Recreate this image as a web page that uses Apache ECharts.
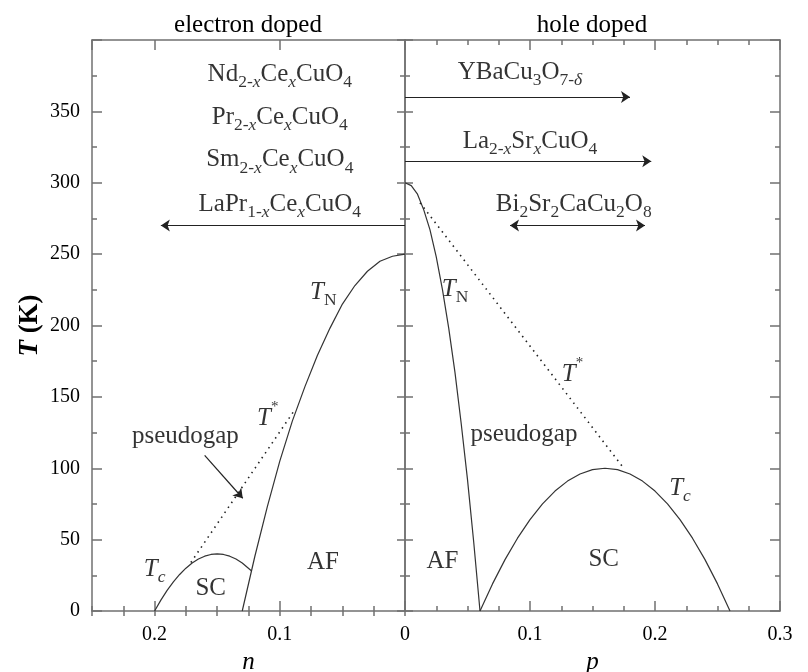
<!DOCTYPE html>
<html>
<head>
<meta charset="utf-8">
<script src="https://cdn.jsdelivr.net/npm/echarts@6/dist/echarts.min.js"></script>
<style>html,body{margin:0;padding:0;background:#fff}#c{width:808px;height:672px}</style>
</head>
<body>
<div id="c"></div>
<script>
// ---------- DATA ----------
// electron doped side (x = n)
const eTN_n = [0, 0.01, 0.02, 0.03, 0.04, 0.05, 0.06, 0.07, 0.08, 0.09, 0.10, 0.11, 0.12, 0.13];
const eTN_T = [250, 248.5, 245, 238, 228, 215, 198, 179, 157, 133, 105, 73, 38, 0];
const eSC_n = [0.2, 0.195, 0.19, 0.185, 0.18, 0.175, 0.17, 0.165, 0.16, 0.155, 0.15, 0.145, 0.14, 0.135, 0.13, 0.1225];
const eSC_T = [0, 7.6, 14.4, 20.4, 25.6, 30, 33.6, 36.4, 38.4, 39.6, 40, 39.6, 38.4, 36.4, 33.6, 28];
const eTstar_n = [0.171, 0.088];
const eTstar_T = [34, 141];
// hole doped side (x = p)
const hTN_p = [0, 0.005, 0.01, 0.015, 0.02, 0.025, 0.03, 0.035, 0.04, 0.045, 0.05, 0.055, 0.06];
const hTN_T = [300, 298, 292, 281, 267, 248, 225, 198, 167, 131, 92, 48, 0];
const hSC_p = [0.06, 0.07, 0.08, 0.09, 0.10, 0.11, 0.12, 0.13, 0.14, 0.15, 0.16, 0.17, 0.18, 0.19, 0.20, 0.21, 0.22, 0.23, 0.24, 0.25, 0.26];
const hSC_T = [0, 19, 36, 51, 64, 75, 84, 91, 96, 99, 100, 99, 96, 91, 84, 75, 64, 51, 36, 19, 0];
const hTstar_p = [0.012, 0.175];
const hTstar_T = [286, 100];
// arrows: [fromX, fromY, toX, toY, doubleHeaded]
const eArrows = [[0, 270, 0.195, 270, false], [0.16, 109, 0.1296, 79, false]];
const hArrows = [[0, 360, 0.18, 360, false], [0, 315, 0.197, 315, false], [0.084, 270, 0.192, 270, true]];
// tick settings
const yMax = 400, yStep = 50;
const nMax = 0.25, pMax = 0.3, xStep = 0.1, xMinorStep = 0.025;
// annotations (text, data position)
const eLabels = [
  ['{r|Nd}{s|2-}{si|x}{r|Ce}{si|x}{r|CuO}{s|4}', 0.1, 376],
  ['{r|Pr}{s|2-}{si|x}{r|Ce}{si|x}{r|CuO}{s|4}', 0.1, 346],
  ['{r|Sm}{s|2-}{si|x}{r|Ce}{si|x}{r|CuO}{s|4}', 0.1, 316],
  ['{r|LaPr}{s|1-}{si|x}{r|Ce}{si|x}{r|CuO}{s|4}', 0.1, 285],
  ['{i|T}{s|N}', 0.0652, 223],
  ['{i|T}{sup|*}', 0.1096, 135],
  ['{r|pseudogap}', 0.1754, 122],
  ['{i|T}{si|c}', 0.2, 29],
  ['{r|SC}', 0.1552, 16],
  ['{r|AF}', 0.0656, 34]
];
const hLabels = [
  ['{r|YBaCu}{s|3}{r|O}{s|7-}{si|δ}', 0.092, 377],
  ['{r|La}{s|2-}{si|x}{r|Sr}{si|x}{r|CuO}{s|4}', 0.1, 329],
  ['{r|Bi}{s|2}{r|Sr}{s|2}{r|CaCu}{s|2}{r|O}{s|8}', 0.135, 285],
  ['{i|T}{s|N}', 0.04, 225],
  ['{i|T}{sup|*}', 0.134, 166],
  ['{r|pseudogap}', 0.0952, 124],
  ['{i|T}{si|c}', 0.22, 86],
  ['{r|SC}', 0.159, 36],
  ['{r|AF}', 0.03, 35]
];

// ---------- STYLE ----------
const FF = 'Liberation Serif';
const AX = '#707070';
const CURVE = '#333';
const rich = {
  r: {fontFamily: FF, fontSize: 25, color: '#000'},
  i: {fontFamily: FF, fontSize: 25, fontStyle: 'italic', color: '#000'},
  s: {fontFamily: FF, fontSize: 17.5, color: '#000', padding: [16, 0, 0, 0]},
  si: {fontFamily: FF, fontSize: 17.5, fontStyle: 'italic', color: '#000', padding: [16, 0, 0, 0]},
  sup: {fontFamily: FF, fontSize: 15, color: '#000', padding: [0, 0, 22, 0]}
};
const zip = (a, b) => a.map((v, k) => [v, b[k]]);

function xAx(grid, pos, max, inverse, interval, tickLen, opts) {
  return Object.assign({
    type: 'value', gridIndex: grid, position: pos, min: 0, max: max, inverse: inverse,
    interval: interval,
    axisLine: {show: true, onZero: false, lineStyle: {color: AX, width: 1.5}},
    axisTick: {show: true, inside: true, length: tickLen, lineStyle: {color: AX, width: 1.5}},
    axisLabel: {show: false},
    splitLine: {show: false}
  }, opts || {});
}
function yAx(grid, pos, tickLen, opts) {
  return Object.assign({
    type: 'value', gridIndex: grid, position: pos, min: 0, max: yMax, interval: yStep,
    axisLine: {show: true, onZero: false, lineStyle: {color: AX, width: 1.5}},
    axisTick: {show: true, inside: true, length: tickLen, lineStyle: {color: AX, width: 1.5}},
    minorTick: {show: true, splitNumber: 2, length: 5, lineStyle: {color: AX, width: 1.5}},
    axisLabel: {show: false},
    splitLine: {show: false}, minorSplitLine: {show: false}
  }, opts || {});
}
const tickLabel = {show: true, color: '#000', fontFamily: FF, fontSize: 20};

const xAxes = [
  // 0: electron bottom major
  xAx(0, 'bottom', nMax, true, xStep, 10, {
    axisLabel: Object.assign({}, tickLabel, {margin: 14, showMaxLabel: false}),
    name: 'n', nameLocation: 'middle', nameGap: 34,
    nameTextStyle: {fontFamily: FF, fontSize: 25, fontStyle: 'italic', color: '#000'}
  }),
  // 1: electron bottom minor
  xAx(0, 'bottom', nMax, true, xMinorStep, 5, {axisLine: {show: false}}),
  // 2: electron top major
  xAx(0, 'top', nMax, true, xStep, 10),
  // 3: electron top minor
  xAx(0, 'top', nMax, true, xMinorStep, 5, {axisLine: {show: false}}),
  // 4: hole bottom
  xAx(1, 'bottom', pMax, false, xStep, 10, {
    minorTick: {show: true, splitNumber: 4, length: 5, lineStyle: {color: AX, width: 1.5}},
    axisLabel: Object.assign({}, tickLabel, {margin: 14, showMinLabel: false}),
    name: 'p', nameLocation: 'middle', nameGap: 34,
    nameTextStyle: {fontFamily: FF, fontSize: 25, fontStyle: 'italic', color: '#000'}
  }),
  // 5: hole top
  xAx(1, 'top', pMax, false, xStep, 10, {
    minorTick: {show: true, splitNumber: 4, length: 5, lineStyle: {color: AX, width: 1.5}}
  })
];
const yAxes = [
  yAx(0, 'left', 10, {
    axisLabel: Object.assign({}, tickLabel, {margin: 12, showMaxLabel: false}),
    name: '{i|T} (K)', nameLocation: 'middle', nameRotate: 90, nameGap: 48,
    nameTextStyle: {fontFamily: FF, fontSize: 27, fontWeight: 'bold', color: '#000',
      rich: {i: {fontFamily: FF, fontSize: 27, fontStyle: 'italic', fontWeight: 'bold', color: '#000'}}}
  }),
  yAx(0, 'right', 8),
  yAx(1, 'left', 8),
  yAx(1, 'right', 10)
];

function curve(xi, yi, data, dotted) {
  return {
    type: 'line', xAxisIndex: xi, yAxisIndex: yi, data: data, showSymbol: false, symbol: 'none',
    silent: true, clip: false,
    lineStyle: dotted ? {color: '#222', width: 1.6, type: [1.5, 4.5]} : {color: CURVE, width: 1.2}
  };
}
function arrowSeries(xi, yi, arrows) {
  return {
    type: 'line', xAxisIndex: xi, yAxisIndex: yi, data: [], silent: true,
    markLine: {
      silent: true, animation: false, symbolSize: 9,
      label: {show: false},
      lineStyle: {color: '#222', width: 1.2, type: 'solid'},
      emphasis: {disabled: true},
      data: arrows.map(a => [
        {coord: [a[0], a[1]], symbol: a[4] ? 'arrow' : 'none'},
        {coord: [a[2], a[3]], symbol: 'arrow'}
      ])
    }
  };
}
function labelSeries(xi, yi, labels) {
  return {
    type: 'scatter', xAxisIndex: xi, yAxisIndex: yi, symbolSize: 0, silent: true, clip: false,
    data: labels.map(l => ({value: [l[1], l[2]], label: {formatter: l[0]}})),
    label: {show: true, position: 'inside', color: '#000', fontFamily: FF, fontSize: 25, rich: rich}
  };
}

const chart = echarts.init(document.getElementById('c'), null, {renderer: 'canvas'});
chart.setOption({
  animation: false,
  backgroundColor: '#fff',
  grid: [
    {left: 92, top: 40, width: 313, height: 571, containLabel: false, outerBoundsMode: 'none'},
    {left: 405, top: 40, width: 375, height: 571, containLabel: false, outerBoundsMode: 'none'}
  ],
  xAxis: xAxes,
  yAxis: yAxes,
  graphic: [
    {type: 'text', x: 248, y: 25, style: {text: 'electron doped', fontFamily: FF, fontSize: 25, fill: '#000', align: 'center', verticalAlign: 'middle', textAlign: 'center', textVerticalAlign: 'middle'}},
    {type: 'text', x: 592, y: 25, style: {text: 'hole doped', fontFamily: FF, fontSize: 25, fill: '#000', align: 'center', verticalAlign: 'middle', textAlign: 'center', textVerticalAlign: 'middle'}}
  ],
  series: [
    curve(0, 0, zip(eTN_n, eTN_T), false),
    curve(0, 0, zip(eSC_n, eSC_T), false),
    curve(0, 0, zip(eTstar_n, eTstar_T), true),
    arrowSeries(0, 0, eArrows),
    labelSeries(0, 0, eLabels),
    curve(4, 2, zip(hTN_p, hTN_T), false),
    curve(4, 2, zip(hSC_p, hSC_T), false),
    curve(4, 2, zip(hTstar_p, hTstar_T), true),
    arrowSeries(4, 2, hArrows),
    labelSeries(4, 2, hLabels)
  ]
});
</script>
</body>
</html>
